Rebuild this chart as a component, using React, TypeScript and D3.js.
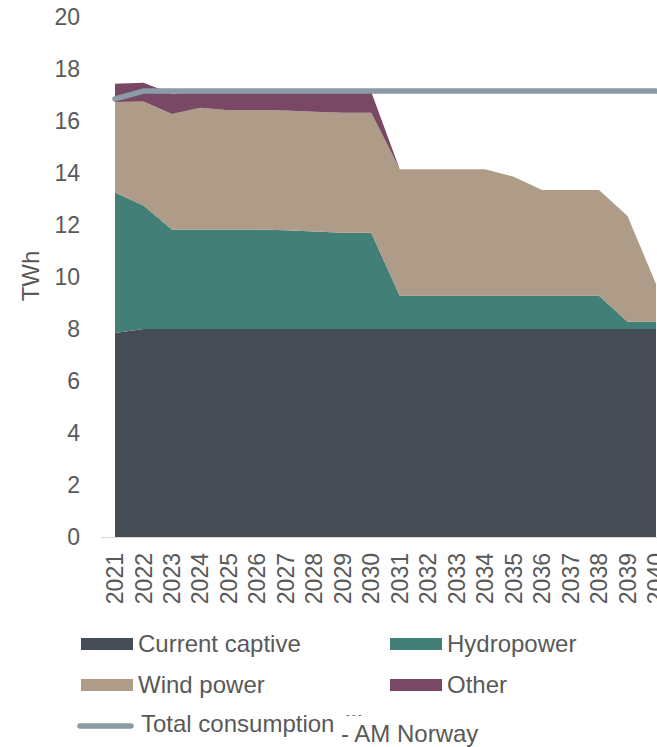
import { useEffect, useRef } from "react";
import * as d3 from "d3";

const years = ["2021", "2022", "2023", "2024", "2025", "2026", "2027", "2028", "2029", "2030",
  "2031", "2032", "2033", "2034", "2035", "2036", "2037", "2038", "2039", "2040"];

const captive = [7.85, 8.0, 8.0, 8.0, 8.0, 8.0, 8.0, 8.0, 8.0, 8.0,
  8.0, 8.0, 8.0, 8.0, 8.0, 8.0, 8.0, 8.0, 8.0, 8.0];
const hydro = [5.4, 4.75, 3.83, 3.83, 3.83, 3.83, 3.8, 3.75, 3.7, 3.7,
  1.28, 1.28, 1.28, 1.28, 1.28, 1.28, 1.28, 1.28, 0.28, 0.28];
const wind = [3.48, 4.0, 4.44, 4.68, 4.58, 4.59, 4.6, 4.61, 4.62, 4.62,
  4.86, 4.86, 4.86, 4.86, 4.58, 4.07, 4.07, 4.07, 4.07, 1.45];
const other = [0.7, 0.72, 0.78, 0.6, 0.7, 0.7, 0.72, 0.76, 0.8, 0.8,
  0, 0, 0, 0, 0, 0, 0, 0, 0, 0];
const consumption = [16.85, 17.15, 17.15, 17.15, 17.15, 17.15, 17.15, 17.15, 17.15, 17.15,
  17.15, 17.15, 17.15, 17.15, 17.15, 17.15, 17.15, 17.15, 17.15, 17.15];

const yTicks = [0, 2, 4, 6, 8, 10, 12, 14, 16, 18, 20];

const seriesKeys = ["captive", "hydro", "wind", "other"];
const seriesColors: Record<string, string> = {
  captive: "#464c56",
  hydro: "#427f77",
  wind: "#ae9c89",
  other: "#784865",
};
const lineColor = "#8b9ba5";
const textColor = "#595959";
const font = "'Liberation Sans', Arial, sans-serif";

export default function App() {
  const svgRef = useRef<SVGSVGElement | null>(null);

  useEffect(() => {
    const svg = d3.select(svgRef.current);
    svg.selectAll("*").remove();

    const x = d3.scalePoint<string>().domain(years).range([115, 656]);
    const y = d3.scaleLinear().domain([0, 20]).range([537, 17]);

    const rows = years.map((yr, i) => ({
      year: yr,
      captive: captive[i],
      hydro: hydro[i],
      wind: wind[i],
      other: other[i],
    }));
    const stacked = d3.stack<any>().keys(seriesKeys)(rows);

    const area = d3.area<any>()
      .x(d => x(d.data.year) as number)
      .y0(d => y(d[0]))
      .y1(d => y(d[1]));

    svg.append("g")
      .selectAll("path")
      .data(stacked)
      .enter()
      .append("path")
      .attr("fill", d => seriesColors[d.key])
      .attr("d", d => area(d) as string);

    // x axis line
    svg.append("line")
      .attr("x1", 101).attr("x2", 657)
      .attr("y1", y(0) + 0.5).attr("y2", y(0) + 0.5)
      .attr("stroke", "#d9d9d9")
      .attr("stroke-width", 1);

    const line = d3.line<number>()
      .x((_, i) => x(years[i]) as number)
      .y(d => y(d));

    svg.append("path")
      .attr("d", line(consumption) as string)
      .attr("fill", "none")
      .attr("stroke", lineColor)
      .attr("stroke-width", 5.5)
      .attr("stroke-linecap", "round")
      .attr("stroke-linejoin", "round");

    // y ticks
    svg.append("g")
      .selectAll("text")
      .data(yTicks)
      .enter()
      .append("text")
      .attr("x", 80)
      .attr("y", d => y(d))
      .attr("dy", "0.35em")
      .attr("text-anchor", "end")
      .attr("fill", textColor)
      .style("font", `23px ${font}`)
      .text(d => d);

    svg.append("text")
      .attr("transform", `translate(39,276) rotate(-90)`)
      .attr("text-anchor", "middle")
      .attr("fill", textColor)
      .style("font", `24px ${font}`)
      .text("TWh");

    // x labels
    svg.append("g")
      .selectAll("text")
      .data(years)
      .enter()
      .append("text")
      .attr("transform", d => `translate(${x(d)},553) rotate(-90)`)
      .attr("dy", "0.35em")
      .attr("text-anchor", "end")
      .attr("fill", textColor)
      .style("font", `23px ${font}`)
      .text(d => d);

    // legend
    const legend = [
      { key: "captive", label: "Current captive", x: 81, y: 644 },
      { key: "hydro", label: "Hydropower", x: 390, y: 644 },
      { key: "wind", label: "Wind power", x: 81, y: 685 },
      { key: "other", label: "Other", x: 390, y: 685 },
    ];
    const lg = svg.append("g");
    legend.forEach(l => {
      lg.append("rect")
        .attr("x", l.x).attr("y", l.y - 6)
        .attr("width", 52).attr("height", 12)
        .attr("fill", seriesColors[l.key]);
      lg.append("text")
        .attr("x", l.x + 57).attr("y", l.y + 7.5)
        .attr("fill", textColor)
        .style("font", `24px ${font}`)
        .text(l.label);
    });
    lg.append("line")
      .attr("x1", 80).attr("x2", 131)
      .attr("y1", 726).attr("y2", 726)
      .attr("stroke", lineColor)
      .attr("stroke-width", 5.5)
      .attr("stroke-linecap", "round");
    lg.append("text")
      .attr("x", 141).attr("y", 732)
      .attr("fill", textColor)
      .style("font", `24px ${font}`)
      .text("Total consumption");
    lg.append("text")
      .attr("x", 346).attr("y", 718)
      .attr("fill", textColor)
      .style("font", `10px ${font}`)
      .text("- - -");
    lg.append("text")
      .attr("x", 341).attr("y", 742)
      .attr("fill", textColor)
      .style("font", `24px ${font}`)
      .text("- AM Norway");
  }, []);

  return (
    <svg
      ref={svgRef}
      width={657}
      height={747}
      style={{ position: "absolute", left: 0, top: 0, background: "#fff" }}
    />
  );
}
